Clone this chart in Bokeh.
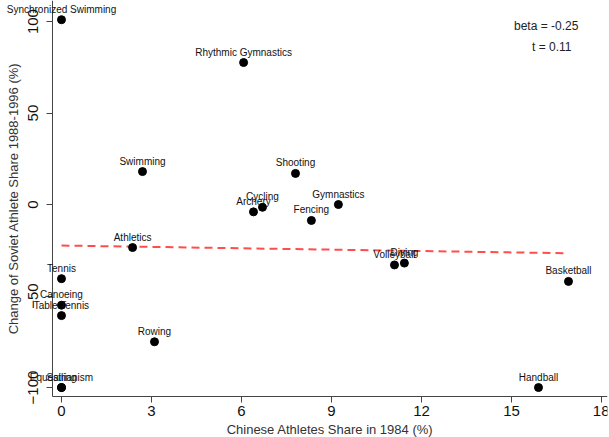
from bokeh.plotting import figure
from bokeh.models import ColumnDataSource, Label, FixedTicker, Range1d
from bokeh.embed import file_html
from bokeh.resources import INLINE

sports = ["Synchronized Swimming", "Rhythmic Gymnastics", "Swimming", "Shooting",
          "Gymnastics", "Cycling", "Archery", "Fencing", "Athletics", "Volleyball",
          "Diving", "Basketball", "Handball", "Tennis", "Canoeing", "Table Tennis",
          "Rowing", "Equestrianism", "Sailing"]
chinese_share = [0.0, 6.07, 2.7, 7.8, 9.23, 6.7, 6.4, 8.33, 2.37, 11.1,
                 11.43, 16.9, 15.9, 0.0, 0.0, 0.0, 3.1, 0.0, 0.0]
soviet_change = [101, 77.6, 18, 17, 0, -1.5, -4, -8.7, -23.5, -33,
                 -32, -42, -100, -40.5, -55, -60.7, -75, -100, -100]

fit_x = [0.0, 16.9]
fit_y = [-22.4, -22.4 - 0.25 * 16.9]

x_ticks = [0, 3, 6, 9, 12, 15, 18]
y_ticks = [-100, -50, 0, 50, 100]

x_start, x_end = -0.3, 18.2
y_start, y_end = -104.9, 111.5

p = figure(width=609, height=437, output_backend="svg", toolbar_location=None,
           x_range=Range1d(-2.033, x_end), y_range=Range1d(-127.3, y_end),
           min_border_left=0, min_border_right=2, min_border_top=0, min_border_bottom=0)
p.outline_line_color = None
p.xgrid.visible = False
p.ygrid.visible = False
p.background_fill_color = "white"

src = ColumnDataSource(dict(x=chinese_share, y=soviet_change, name=sports))
p.line(fit_x, fit_y, line_color="#FF4D4D", line_width=2, line_dash="8 5")
p.scatter("x", "y", source=src, size=8, color="black")
for sx, sy, name in zip(chinese_share, soviet_change, sports):
    p.add_layout(Label(x=sx, y=sy, text=name, text_align="center",
                       text_baseline="bottom", y_offset=5, text_font="Liberation Sans",
                       text_font_size="10px", text_color="#111111"))

for ax in (p.xaxis[0], p.yaxis[0]):
    ax.axis_line_color = "#444444"
    ax.major_tick_line_color = "#444444"
    ax.minor_tick_line_color = None
    ax.major_tick_out = 6
    ax.major_tick_in = 0
    ax.major_label_text_font = "Liberation Sans"
    ax.major_label_text_font_size = "15px"
    ax.major_label_text_color = "#111111"
    ax.axis_label_text_font = "Liberation Sans"
    ax.axis_label_text_font_size = "13px"
    ax.axis_label_text_font_style = "normal"
    ax.axis_label_text_color = "#333333"

p.xaxis.major_label_standoff = 3
p.xaxis.axis_label_standoff = 3
p.yaxis.major_label_standoff = 8
p.yaxis.axis_label_standoff = 5

p.xaxis.ticker = FixedTicker(ticks=x_ticks)
p.yaxis.ticker = FixedTicker(ticks=y_ticks)
p.xaxis.bounds = (x_start, x_end)
p.yaxis.bounds = (y_start, y_end)
p.yaxis.fixed_location = x_start
p.xaxis.fixed_location = y_start
p.yaxis.major_label_orientation = "vertical"
p.xaxis.axis_label = "Chinese Athletes Share in 1984 (%)"
p.yaxis.axis_label = "Change of Soviet Athlete Share 1988-1996 (%)"

p.add_layout(Label(x=17.23, y=97.8, text="beta = -0.25", text_align="right",
                   text_baseline="middle", text_font="Liberation Sans",
                   text_font_size="12px", text_color="#222222"))
p.add_layout(Label(x=17.0, y=86.3, text="t = 0.11", text_align="right",
                   text_baseline="middle", text_font="Liberation Sans",
                   text_font_size="12px", text_color="#222222"))

open("out.html", "w").write(file_html(p, INLINE))
